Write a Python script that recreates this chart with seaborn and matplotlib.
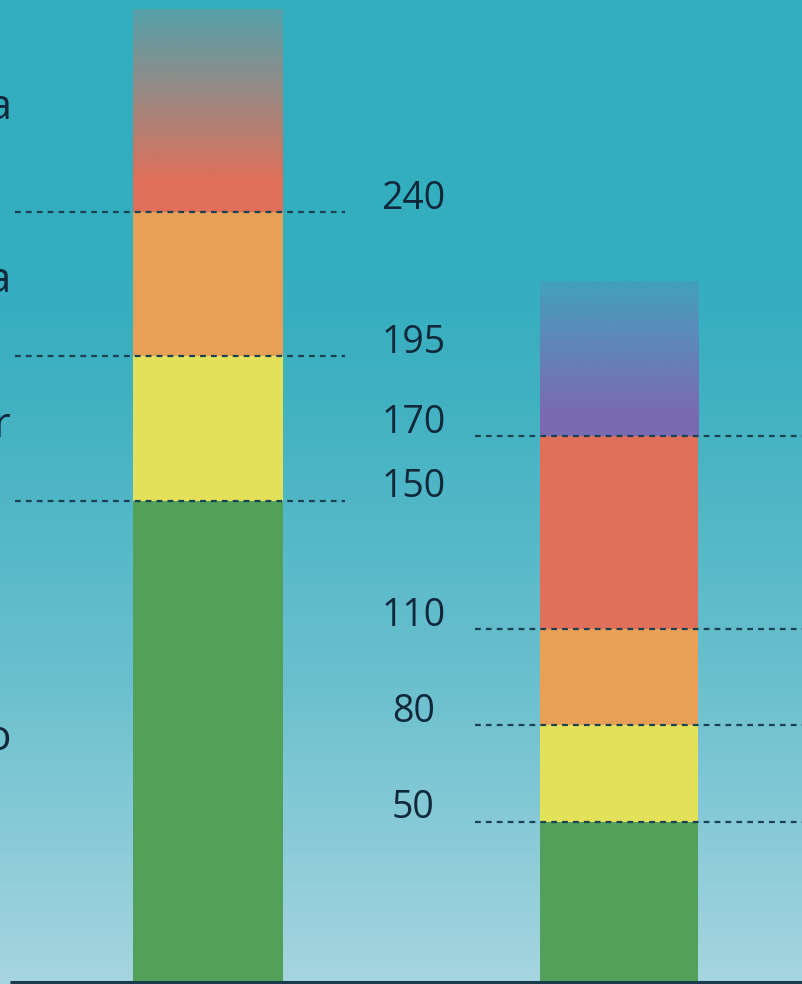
import numpy as np
import matplotlib.pyplot as plt
import seaborn as sns
from matplotlib.colors import LinearSegmentedColormap, to_rgb

# the two bars (their names are cropped out of the picture)
bars = ["Índice 1", "Índice 2"]

# band limits for each bar, bottom to top; the last value is where the faded top ends
left_limits = [150, 195, 240, 303]
right_limits = [50, 80, 110, 170, 218]
left_colors = ["#52a05a", "#e3e15a", "#e8a056", "#e0705a"]
right_colors = ["#52a05a", "#e3e15a", "#e8a056", "#e0705a", "#7a6ab2"]

# threshold values written between the bars
left_marks = [150, 195, 240]
right_marks = [50, 80, 110, 170]

# zone names on the left edge (only the last letter is inside the crop)
zone_names = ["Bueno", "Regular", "Mala", "Muy mala"]

sns.set_theme(style="white")
plt.rcParams["font.family"] = ["Open Sans", "DejaVu Sans"]

text_col = "#10283a"
line_col = "#1b4253"

fig = plt.figure(figsize=(8.03, 9.84), dpi=100)
fig.patch.set_facecolor("#a5d5e0")
ax = fig.add_axes([0, 2 / 984, 1, 982 / 984])

xlim = (-0.506, 1.448)
ymax = 306

# background: teal at the top, pale blue at the bottom
bg = LinearSegmentedColormap.from_list(
    "bg", [(0, "#a5d5e0"), (0.3, "#6cc0ce"), (0.6, "#40b1c2"), (0.72, "#34aebf"), (1, "#33aebf")]
)
ax.imshow(np.linspace(0, 1, 256).reshape(-1, 1), cmap=bg, origin="lower",
          extent=[xlim[0], xlim[1], 0, ymax], aspect="auto", zorder=0)

specs = [(bars[0], left_limits, left_colors, 0.365), (bars[1], right_limits, right_colors, 0.385)]
for name, limits, colors, w in specs:
    # solid bands, tallest first so the lower ones sit on top
    for top, col in list(zip(limits[:-1], colors[:-1]))[::-1]:
        sns.barplot(x=[name], y=[top], order=bars, color=col, saturation=1,
                    width=w, errorbar=None, ax=ax, zorder=2,
                    edgecolor="none", linewidth=0)
    # faded top band
    pos = bars.index(name)
    n = 256
    img = np.zeros((n, 1, 4))
    img[..., :3] = to_rgb(colors[-1])
    img[:, 0, 3] = np.clip(np.linspace(1.15, 0.2, n), 0, 1)
    ax.imshow(img, origin="lower", extent=[pos - w / 2, pos + w / 2, limits[-2], limits[-1]],
              aspect="auto", interpolation="bilinear", zorder=2)

# dashed threshold lines
dash = dict(colors=line_col, linestyles=[(0, (2.6, 2.3))], linewidth=1.6, zorder=3)
ax.hlines(left_marks, -0.47, 0.333, **dash)
ax.hlines(right_marks, 0.65, xlim[1], **dash)

# threshold numbers, between the bars
for m in left_marks + right_marks:
    ax.annotate(str(m), (0.5, m), xytext=(0, 9.5), textcoords="offset points",
                ha="center", va="center", fontsize=27, color=text_col)

# zone names at the middle of each band of the left bar
mids = [(a + b) / 2 for a, b in zip([0] + left_limits[:-1], left_limits)]
for name, y in zip(zone_names, mids):
    ax.annotate(name, (-0.477, y), xytext=(0, -6), textcoords="offset points",
                ha="right", va="baseline", fontsize=30, color=text_col)

# base line
ax.hlines(0, -0.482, xlim[1], colors="#1a3c4c", linewidth=2.2, zorder=4, clip_on=False)

ax.set_xlim(*xlim)
ax.set_ylim(0, ymax)
ax.axis("off")

fig.savefig("out.png", dpi=100)
